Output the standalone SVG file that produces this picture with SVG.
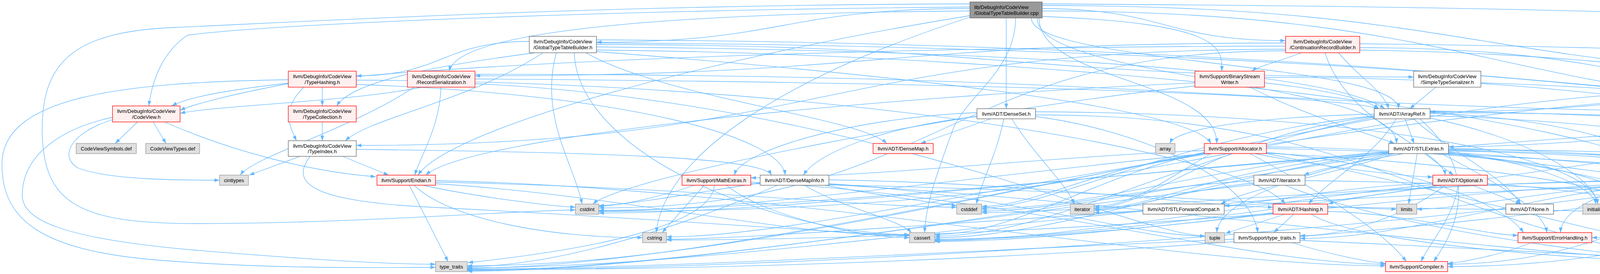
<svg xmlns="http://www.w3.org/2000/svg" width="5957" height="701" viewBox="0 0 5957 701">
<defs>
<marker id="ah" markerWidth="13" markerHeight="10" refX="13" refY="5" orient="auto" markerUnits="userSpaceOnUse">
<path d="M0,0.4 L13,5 L0,9.6 Z" fill="#63b8ff"/>
</marker>
</defs>
<style>
.e path{fill:none;stroke:#63b8ff;stroke-width:1.3;marker-end:url(#ah)}
text{font-family:"Liberation Sans",Arial,Helvetica,sans-serif;font-size:13px;fill:#000;text-anchor:middle}
.r rect{fill:#fff0f0;stroke:#ff0000;stroke-width:1.3}
.w rect{fill:#ffffff;stroke:#666666;stroke-width:1.3}
.g rect{fill:#e0e0e0;stroke:#999999;stroke-width:1.3}
.rt rect{fill:#999999;stroke:#666666;stroke-width:1.3}
.rt text{text-anchor:start}
</style>
<rect x="0" y="0" width="5957" height="701" fill="#ffffff"/>
<g id="edges" class="e">
<path d="M2483,22 C2005,22 2005,108 1527,108"/>
<path d="M2668,22 C2980,22 2980,104 3291,104"/>
<path d="M2576,46 L2576,278"/>
<path d="M2640,46 C2640,162 3580,162 3580,278"/>
<path d="M2655,46 C2655,206 3575,206 3575,367"/>
<path d="M2483,18 C1600,25 700,60 480,90 C420,130 390,200 381,271"/>
<path d="M2483,28 C1600,35 1170,90 1150,182"/>
<path d="M2660,46 C2660,206 3115,206 3115,367"/>
<path d="M2668,14 C3800,14 3800,196 4925,196"/>
<path d="M2668,42 C3128,60 3128,120 3128,182"/>
<path d="M2483,40 C1800,150 1150,330 1070,448"/>
<path d="M2668,28 C3850,28 3850,286 5037,286"/>
<path d="M2668,10 C4500,20 5900,60 5900,300 C5900,520 5600,608 5244,608"/>
<path d="M2600,46 C2600,180 2470,250 2440,330 C2400,440 2370,520 2367,595"/>
<path d="M2483,10 C1500,12 700,60 450,70 C200,80 108,150 108,330 C108,520 200,572 500,572 C900,572 1300,540 1473,537"/>
<path d="M2483,44 C2000,200 1700,400 1680,595"/>
<path d="M1527,120 C2600,130 3400,180 3545,278"/>
<path d="M1500,135 C1700,250 2200,300 2270,367"/>
<path d="M1527,128 C2800,140 4100,300 4280,448"/>
<path d="M1527,114 C2573,114 2573,197 3619,197"/>
<path d="M1370,135 C1100,170 900,210 862,271"/>
<path d="M1355,106 C1133,106 1133,194 912,194"/>
<path d="M1390,135 C1200,260 950,300 884,360"/>
<path d="M1527,132 C2400,200 3050,280 3100,367"/>
<path d="M1470,135 C1480,400 2000,600 2328,600"/>
<path d="M1424,135 C1380,300 1470,420 1490,522"/>
<path d="M1527,102 C3500,110 5390,300 5400,522"/>
<path d="M1527,110 C3200,115 4860,250 4872,367"/>
<path d="M3427,135 C3480,200 3540,230 3555,278"/>
<path d="M3392,135 C3450,320 3690,380 3700,448"/>
<path d="M3291,118 C2000,120 600,180 440,271"/>
<path d="M3291,110 C2253,110 2253,194 1216,194"/>
<path d="M3291,126 C2100,126 2100,372 912,372"/>
<path d="M3481,112 C4300,120 4900,150 4960,190"/>
<path d="M3332,135 C3280,155 3220,170 3205,182"/>
<path d="M3481,122 C4259,122 4259,282 5037,282"/>
<path d="M3291,130 C2412,130 2412,532 1533,532"/>
<path d="M3481,128 C4300,140 4880,250 4890,367"/>
<path d="M738,214 C600,240 500,265 461,282"/>
<path d="M825,223 L825,271"/>
<path d="M778,223 C720,280 740,320 759,360"/>
<path d="M912,216 C1600,240 2000,350 2010,448"/>
<path d="M912,205 C2200,210 3200,400 3290,522"/>
<path d="M738,204 C300,210 5,250 5,420 C5,560 100,640 400,665 C700,690 1000,684 1115,684"/>
<path d="M1216,202 C2400,210 3400,240 3530,278"/>
<path d="M1080,223 C900,260 550,270 461,290"/>
<path d="M1129,223 C1125,330 1075,400 1062,448"/>
<path d="M1216,190 C3127,190 3127,292 5037,292"/>
<path d="M1060,223 C900,330 650,400 615,448"/>
<path d="M1216,214 C2200,260 2900,600 3085,604"/>
<path d="M3237,212 C3400,230 3500,255 3530,278"/>
<path d="M3200,223 C3350,300 3500,340 3570,367"/>
<path d="M3059,212 C2200,250 1200,350 1090,448"/>
<path d="M3237,198 C4137,198 4137,290 5037,290"/>
<path d="M3059,220 C2500,280 1600,450 1518,522"/>
<path d="M3676,223 L3609,278"/>
<path d="M3791,212 C4400,230 4850,300 4866,367"/>
<path d="M4925,204 C4293,204 4293,286 3661,286"/>
<path d="M5043,216 L5090,278"/>
<path d="M5141,208 C5600,240 5700,400 5680,470 C5640,560 5400,605 5244,605"/>
<path d="M4925,212 C3229,212 3229,541 1533,541"/>
<path d="M4925,214 C3300,260 2200,606 1706,606"/>
<path d="M5072,216 C5250,290 5400,400 5412,522"/>
<path d="M352,312 L295,367"/>
<path d="M392,312 L425,367"/>
<path d="M288,306 C180,340 150,400 200,430 C280,460 450,461 562,461"/>
<path d="M421,312 C600,390 800,440 962,452"/>
<path d="M288,300 C150,330 57,400 57,500 C57,560 150,610 500,640 C800,665 1000,676 1115,676"/>
<path d="M825,312 L825,360"/>
<path d="M768,400 L638,448"/>
<path d="M877,400 L995,448"/>
<path d="M912,382 C1500,390 1950,400 1975,448"/>
<path d="M794,400 C740,470 800,515 1100,530 C1700,560 2200,600 2328,602"/>
<path d="M2536,304 L2357,367"/>
<path d="M2501,298 C2300,320 2100,380 2057,448"/>
<path d="M2570,304 C2550,400 2510,470 2500,522"/>
<path d="M2590,304 C2650,400 2730,470 2750,522"/>
<path d="M2501,288 C2200,300 1900,380 1880,448"/>
<path d="M2651,286 C3500,290 4080,400 4090,522"/>
<path d="M2651,294 C3670,294 3670,680 4689,680"/>
<path d="M2651,298 C2900,330 3200,450 3220,595"/>
<path d="M3574,304 C3520,400 3400,460 3350,522"/>
<path d="M3619,304 C3700,380 3850,450 3893,522"/>
<path d="M3597,304 L3620,367"/>
<path d="M3661,290 C4000,300 4250,380 4270,448"/>
<path d="M3635,304 C3800,450 3720,600 3670,669"/>
<path d="M3661,296 C4500,320 5150,500 5190,595"/>
<path d="M3518,292 C3200,300 3010,330 2995,367"/>
<path d="M3518,300 C3000,400 2700,604 2393,604"/>
<path d="M3518,296 C3000,350 2700,532 2513,532"/>
<path d="M3661,302 C3900,350 4080,450 4090,522"/>
<path d="M3518,298 C3100,350 2950,532 2801,532"/>
<path d="M3661,284 C4700,300 5380,400 5395,522"/>
<path d="M3518,304 C2500,500 1800,680 1196,680"/>
<path d="M3661,288 C4300,290 4850,320 4870,367"/>
<path d="M5037,296 C4500,320 4000,376 3708,376"/>
<path d="M5037,300 C4800,380 4600,456 4399,456"/>
<path d="M5104,304 L5072,448"/>
<path d="M5037,304 C4700,500 4300,682 3706,682"/>
<path d="M5050,304 C4600,400 4000,450 3995,595"/>
<path d="M5125,304 C5160,400 5200,500 5200,595"/>
<path d="M5037,302 C4000,400 3000,612 2393,612"/>
<path d="M5037,300 C3500,350 2200,545 1533,545"/>
<path d="M5037,304 C4700,400 4400,535 4231,535"/>
<path d="M5140,304 C5240,380 5260,470 5200,505 C5150,525 5110,532 5084,532"/>
<path d="M5173,298 C5300,330 5410,420 5415,522"/>
<path d="M5060,304 C4800,500 3000,690 1196,690"/>
<path d="M5173,292 C5600,320 5680,500 5600,600 C5500,690 5000,682 4742,682"/>
<path d="M5037,302 C4960,320 4920,340 4905,367"/>
<path d="M3212,393 C3400,430 3600,451 3668,453"/>
<path d="M3242,376 C3800,380 4150,455 4238,455"/>
<path d="M3200,393 C3400,500 3550,600 3600,669"/>
<path d="M3242,390 C3600,420 3850,520 3900,595"/>
<path d="M3083,385 C2700,400 2200,455 1922,455"/>
<path d="M3242,380 C4300,400 5100,500 5190,595"/>
<path d="M3083,390 C2800,450 2600,600 2393,600"/>
<path d="M3083,392 C2800,430 2650,528 2513,528"/>
<path d="M3083,393 C2500,450 1900,540 1533,540"/>
<path d="M3242,392 C3800,420 4150,480 4190,522"/>
<path d="M3100,393 C3000,450 2900,528 2801,528"/>
<path d="M3083,393 C2500,500 1700,686 1196,686"/>
<path d="M3242,393 C3800,500 4300,676 4689,676"/>
<path d="M3647,393 L3721,448"/>
<path d="M3570,393 C3400,450 3200,480 3125,522"/>
<path d="M3593,393 C3500,410 3380,430 3338,448"/>
<path d="M3708,390 C4200,420 4530,460 4545,522"/>
<path d="M3708,380 C4300,390 4700,458 4981,458"/>
<path d="M3690,393 C3800,450 3950,530 3960,595"/>
<path d="M3708,386 C4500,400 5100,520 5180,595"/>
<path d="M3555,390 C3100,450 2700,608 2393,608"/>
<path d="M3555,388 C3100,420 2800,535 2513,535"/>
<path d="M3555,392 C2800,450 2000,538 1533,538"/>
<path d="M3708,392 C4000,420 4180,480 4195,522"/>
<path d="M3708,384 C4500,400 5000,470 5030,522"/>
<path d="M3708,388 C3950,420 4080,480 4085,522"/>
<path d="M3555,392 C3100,430 2950,535 2801,535"/>
<path d="M3628,393 L3606,522"/>
<path d="M3708,382 C4700,390 5390,450 5405,522"/>
<path d="M3565,393 C3300,450 3120,520 3115,595"/>
<path d="M3555,393 C2600,550 1700,692 1196,692"/>
<path d="M3708,393 C4200,450 4650,600 4700,669"/>
<path d="M1115,462 C2000,480 3000,680 3547,680"/>
<path d="M1115,470 C1600,500 2000,603 2328,603"/>
<path d="M1115,466 C1800,480 2200,530 2449,530"/>
<path d="M1083,474 C1200,500 1400,527 1473,530"/>
<path d="M1060,474 C1150,560 1400,608 1645,608"/>
<path d="M1048,474 L1147,669"/>
<path d="M1922,466 C2600,500 3200,676 3547,676"/>
<path d="M1860,474 C1950,550 2200,608 2328,608"/>
<path d="M1778,474 C1700,500 1600,525 1533,528"/>
<path d="M1803,474 L1695,595"/>
<path d="M1922,470 C2800,480 3400,535 3575,535"/>
<path d="M1829,474 C1820,580 1500,640 1198,672"/>
<path d="M2122,460 C2700,470 3100,530 3259,530"/>
<path d="M2060,474 C2150,530 2300,560 2333,595"/>
<path d="M2112,474 C2250,500 2400,520 2449,526"/>
<path d="M1946,468 C1800,490 1600,526 1533,526"/>
<path d="M2122,470 C2600,500 2900,604 3085,604"/>
<path d="M1990,474 C1700,600 1400,682 1196,682"/>
<path d="M2122,472 C3000,520 4000,680 4689,684"/>
<path d="M3341,462 C3900,470 4400,500 4525,522"/>
<path d="M3210,462 C2900,480 2700,540 2513,540"/>
<path d="M3210,468 C3000,490 2900,538 2801,538"/>
<path d="M3210,472 C2500,550 1700,694 1196,694"/>
<path d="M3290,474 C3600,600 4300,686 4689,686"/>
<path d="M3680,474 C3600,490 3450,505 3400,522"/>
<path d="M3769,474 L3893,522"/>
<path d="M3668,468 C3400,480 3200,526 3134,526"/>
<path d="M3733,474 C3720,560 3660,620 3638,669"/>
<path d="M3700,474 C3600,550 3450,603 3328,603"/>
<path d="M3668,472 C3200,520 2700,616 2393,616"/>
<path d="M3808,470 C4300,500 4600,620 4700,669"/>
<path d="M4281,474 L4143,522"/>
<path d="M4300,474 L4223,522"/>
<path d="M4367,474 L4542,522"/>
<path d="M4312,474 C4280,560 4000,676 3706,676"/>
<path d="M4320,474 C4300,560 4200,608 4075,608"/>
<path d="M4238,470 C3900,500 3600,610 3328,610"/>
<path d="M4399,466 C4900,480 5150,560 5175,595"/>
<path d="M4238,466 C3500,500 2800,618 2393,618"/>
<path d="M4238,462 C3500,470 2800,544 2513,544"/>
<path d="M4238,472 C3000,520 2000,612 1706,612"/>
<path d="M4399,470 C4800,480 5000,500 5020,522"/>
<path d="M4238,460 C3500,470 3000,544 2801,544"/>
<path d="M4238,468 C4000,480 3750,535 3627,535"/>
<path d="M4399,460 C5000,470 5380,500 5395,522"/>
<path d="M4300,474 C3500,600 2000,690 1196,690"/>
<path d="M4328,474 C4450,550 4680,620 4710,669"/>
<path d="M2926,540 C2300,600 1700,685 1196,685"/>
<path d="M3290,548 L3137,597"/>
<path d="M3312,548 L3261,595"/>
<path d="M3399,541 C3600,545 3800,602 3886,602"/>
<path d="M3399,530 C4300,540 5000,560 5180,595"/>
<path d="M3259,544 C3000,580 2600,614 2393,614"/>
<path d="M3259,546 C2600,600 2000,614 1706,614"/>
<path d="M3357,548 C3500,640 4300,682 4689,682"/>
<path d="M4560,548 L4705,669"/>
<path d="M3309,621 C3400,650 3500,670 3547,674"/>
<path d="M3159,612 C2500,640 1700,688 1196,688"/>
<path d="M3328,615 C3900,640 4500,678 4689,678"/>
<path d="M3919,621 C3850,650 3750,670 3706,674"/>
</g>
<g id="n_root" class="rt"><rect x="2483" y="5" width="185" height="41"/><text x="2494" y="23">lib/DebugInfo/CodeView</text><text x="2494" y="37.5">/GlobalTypeTableBuilder.cpp</text></g>
<g id="n_gttb" class="w"><rect x="1355" y="93" width="172" height="42"/><text x="1441" y="111">llvm/DebugInfo/CodeView</text><text x="1441" y="125.5">/GlobalTypeTableBuilder.h</text></g>
<g id="n_crb" class="r"><rect x="3291" y="93" width="190" height="42"/><text x="3386" y="111">llvm/DebugInfo/CodeView</text><text x="3386" y="125.5">/ContinuationRecordBuilder.h</text></g>
<g id="n_th" class="r"><rect x="738" y="182" width="174" height="41"/><text x="825" y="200">llvm/DebugInfo/CodeView</text><text x="825" y="214.5">/TypeHashing.h</text></g>
<g id="n_rs" class="r"><rect x="1043" y="182" width="173" height="41"/><text x="1129.5" y="200">llvm/DebugInfo/CodeView</text><text x="1129.5" y="214.5">/RecordSerialization.h</text></g>
<g id="n_bsw" class="r"><rect x="3059" y="182" width="178" height="41"/><text x="3148" y="200">llvm/Support/BinaryStream</text><text x="3148" y="214.5">Writer.h</text></g>
<g id="n_sts" class="w"><rect x="3619" y="182" width="172" height="41"/><text x="3705" y="200">llvm/DebugInfo/CodeView</text><text x="3705" y="214.5">/SimpleTypeSerializer.h</text></g>
<g id="n_bbs" class="r"><rect x="4925" y="190" width="216" height="26"/><text x="5033" y="207.5">llvm/Support/BinaryByteStream.h</text></g>
<g id="n_cv" class="r"><rect x="288" y="271" width="173" height="41"/><text x="374.5" y="289">llvm/DebugInfo/CodeView</text><text x="374.5" y="303.5">/CodeView.h</text></g>
<g id="n_tc" class="r"><rect x="738" y="271" width="174" height="41"/><text x="825" y="289">llvm/DebugInfo/CodeView</text><text x="825" y="303.5">/TypeCollection.h</text></g>
<g id="n_ds" class="w"><rect x="2501" y="278" width="150" height="26"/><text x="2576" y="295.5">llvm/ADT/DenseSet.h</text></g>
<g id="n_ar" class="w"><rect x="3518" y="278" width="143" height="26"/><text x="3589.5" y="295.5">llvm/ADT/ArrayRef.h</text></g>
<g id="n_err" class="r"><rect x="5037" y="278" width="136" height="26"/><text x="5105" y="295.5">llvm/Support/Error.h</text></g>
<g id="n_cvs" class="g"><rect x="195" y="367" width="154" height="26"/><text x="272" y="384.5">CodeViewSymbols.def</text></g>
<g id="n_cvt" class="g"><rect x="373" y="367" width="138" height="26"/><text x="442" y="384.5">CodeViewTypes.def</text></g>
<g id="n_ti" class="w"><rect x="738" y="360" width="174" height="40"/><text x="825" y="377.5">llvm/DebugInfo/CodeView</text><text x="825" y="392">/TypeIndex.h</text></g>
<g id="n_dm" class="r"><rect x="2235" y="367" width="154" height="26"/><text x="2312" y="384.5">llvm/ADT/DenseMap.h</text></g>
<g id="n_array" class="g"><rect x="2958" y="367" width="50" height="26"/><text x="2983" y="384.5">array</text></g>
<g id="n_alloc" class="r"><rect x="3083" y="367" width="159" height="26"/><text x="3162.5" y="384.5">llvm/Support/Allocator.h</text></g>
<g id="n_stle" class="w"><rect x="3555" y="367" width="153" height="26"/><text x="3631.5" y="384.5">llvm/ADT/STLExtras.h</text></g>
<g id="n_vector" class="g"><rect x="4858" y="367" width="57" height="26"/><text x="4886.5" y="384.5">vector</text></g>
<g id="n_cinttypes" class="g"><rect x="562" y="448" width="74" height="26"/><text x="599" y="465.5">cinttypes</text></g>
<g id="n_end" class="r"><rect x="965" y="448" width="150" height="26"/><text x="1040" y="465.5">llvm/Support/Endian.h</text></g>
<g id="n_math" class="r"><rect x="1746" y="448" width="176" height="26"/><text x="1834" y="465.5">llvm/Support/MathExtras.h</text></g>
<g id="n_dmi" class="w"><rect x="1946" y="448" width="176" height="26"/><text x="2034" y="465.5">llvm/ADT/DenseMapInfo.h</text></g>
<g id="n_ith" class="w"><rect x="3210" y="448" width="131" height="26"/><text x="3275.5" y="465.5">llvm/ADT/iterator.h</text></g>
<g id="n_opt" class="r"><rect x="3668" y="448" width="140" height="26"/><text x="3738" y="465.5">llvm/ADT/Optional.h</text></g>
<g id="n_sv" class="r"><rect x="4238" y="448" width="161" height="26"/><text x="4318.5" y="465.5">llvm/ADT/SmallVector.h</text></g>
<g id="n_abi" class="g"><rect x="4981" y="448" width="172" height="26"/><text x="5067" y="465.5">llvm/Config/abi-breaking.h</text></g>
<g id="n_cstdint" class="g"><rect x="1473" y="522" width="60" height="26"/><text x="1503" y="539.5">cstdint</text></g>
<g id="n_cstddef" class="g"><rect x="2449" y="522" width="64" height="26"/><text x="2481" y="539.5">cstddef</text></g>
<g id="n_iterator" class="g"><rect x="2740" y="522" width="61" height="26"/><text x="2770.5" y="539.5">iterator</text></g>
<g id="n_stlfc" class="w"><rect x="2926" y="522" width="208" height="26"/><text x="3030" y="539.5">llvm/ADT/STLForwardCompat.h</text></g>
<g id="n_hash" class="r"><rect x="3259" y="522" width="140" height="26"/><text x="3329" y="539.5">llvm/ADT/Hashing.h</text></g>
<g id="n_limits" class="g"><rect x="3575" y="522" width="52" height="26"/><text x="3601" y="539.5">limits</text></g>
<g id="n_none" class="w"><rect x="3855" y="522" width="122" height="26"/><text x="3916" y="539.5">llvm/ADT/None.h</text></g>
<g id="n_initl" class="g"><rect x="4052" y="522" width="96" height="26"/><text x="4100" y="539.5">initializer_list</text></g>
<g id="n_cstdlib" class="g"><rect x="4171" y="522" width="60" height="26"/><text x="4201" y="539.5">cstdlib</text></g>
<g id="n_ir" class="w"><rect x="4508" y="522" width="170" height="26"/><text x="4593" y="539.5">llvm/ADT/iterator_range.h</text></g>
<g id="n_functional" class="g"><rect x="5006" y="522" width="78" height="26"/><text x="5045" y="539.5">functional</text></g>
<g id="n_memory" class="g"><rect x="5382" y="522" width="68" height="26"/><text x="5416" y="539.5">memory</text></g>
<g id="n_cstring" class="g"><rect x="1645" y="595" width="61" height="26"/><text x="1675.5" y="612.5">cstring</text></g>
<g id="n_cassert" class="g"><rect x="2328" y="595" width="65" height="26"/><text x="2360.5" y="612.5">cassert</text></g>
<g id="n_tuple" class="g"><rect x="3085" y="595" width="50" height="26"/><text x="3110" y="612.5">tuple</text></g>
<g id="n_stt" class="w"><rect x="3159" y="595" width="169" height="26"/><text x="3243.5" y="612.5">llvm/Support/type_traits.h</text></g>
<g id="n_eh" class="r"><rect x="3886" y="595" width="189" height="26"/><text x="3980.5" y="612.5">llvm/Support/ErrorHandling.h</text></g>
<g id="n_algorithm" class="g"><rect x="5169" y="595" width="75" height="26"/><text x="5206.5" y="612.5">algorithm</text></g>
<g id="n_type_traits" class="g"><rect x="1115" y="669" width="81" height="26"/><text x="1155.5" y="686.5">type_traits</text></g>
<g id="n_comp" class="r"><rect x="3547" y="669" width="159" height="26"/><text x="3626.5" y="686.5">llvm/Support/Compiler.h</text></g>
<g id="n_utility" class="g"><rect x="4689" y="669" width="53" height="26"/><text x="4715.5" y="686.5">utility</text></g>
</svg>
